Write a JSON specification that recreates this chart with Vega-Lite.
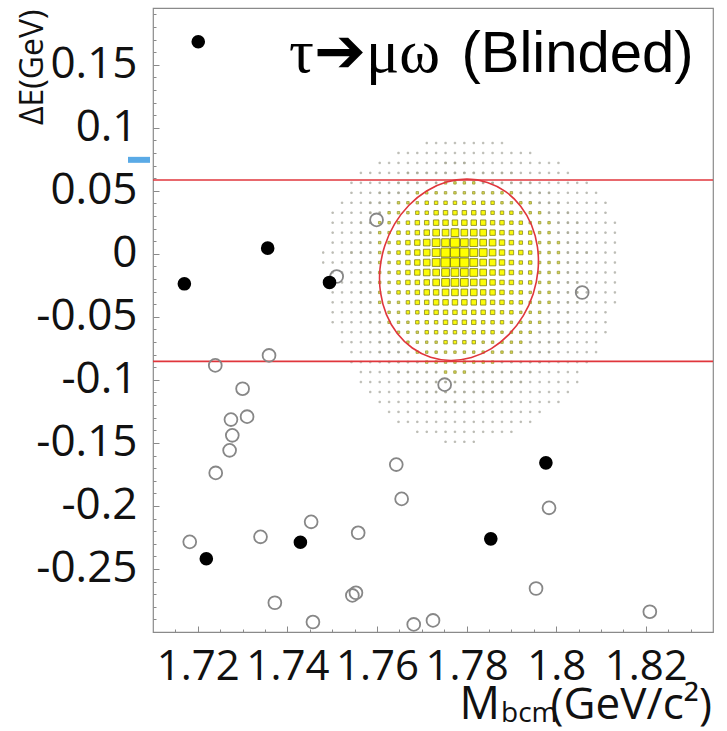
{
"$schema": "https://vega.github.io/schema/vega-lite/v6.json",
"width": 560, "height": 624,
"autosize": {"type": "none"},
"padding": {"left": 153, "top": 8, "right": 14, "bottom": 99},
"background": "white",
"config": {"view": {"stroke": "#8a8a8a", "strokeWidth": 1.2}},
"resolve": {"axis": {"x": "independent", "y": "independent"}},
"datasets": {
"hist": [
{"m":1.7753,"e":0.0721,"n":2},{"m":1.7774,"e":0.0721,"n":2},{"m":1.7795,"e":0.0721,"n":2},
{"m":1.7669,"e":0.0642,"n":2},{"m":1.769,"e":0.0642,"n":2},{"m":1.7711,"e":0.0642,"n":2},{"m":1.7732,"e":0.0642,"n":2},{"m":1.7753,"e":0.0642,"n":2},{"m":1.7774,"e":0.0642,"n":2},{"m":1.7795,"e":0.0642,"n":2},{"m":1.7816,"e":0.0642,"n":2},{"m":1.7837,"e":0.0642,"n":2},{"m":1.7858,"e":0.0642,"n":2},{"m":1.7879,"e":0.0642,"n":2},{"m":1.79,"e":0.0642,"n":2},
{"m":1.7648,"e":0.0563,"n":2},{"m":1.7669,"e":0.0563,"n":2},{"m":1.769,"e":0.0563,"n":2},{"m":1.7711,"e":0.0563,"n":2},{"m":1.7732,"e":0.0563,"n":2},{"m":1.7753,"e":0.0563,"n":3},{"m":1.7774,"e":0.0563,"n":3},{"m":1.7795,"e":0.0563,"n":3},{"m":1.7816,"e":0.0563,"n":3},{"m":1.7837,"e":0.0563,"n":2},{"m":1.7858,"e":0.0563,"n":2},{"m":1.7879,"e":0.0563,"n":2},{"m":1.79,"e":0.0563,"n":2},{"m":1.7921,"e":0.0563,"n":2},{"m":1.7942,"e":0.0563,"n":2},
{"m":1.7606,"e":0.0484,"n":2},{"m":1.7627,"e":0.0484,"n":2},{"m":1.7648,"e":0.0484,"n":2},{"m":1.7669,"e":0.0484,"n":2},{"m":1.769,"e":0.0484,"n":3},{"m":1.7711,"e":0.0484,"n":3},{"m":1.7732,"e":0.0484,"n":3},{"m":1.7753,"e":0.0484,"n":3},{"m":1.7774,"e":0.0484,"n":3},{"m":1.7795,"e":0.0484,"n":3},{"m":1.7816,"e":0.0484,"n":3},{"m":1.7837,"e":0.0484,"n":3},{"m":1.7858,"e":0.0484,"n":3},{"m":1.7879,"e":0.0484,"n":3},{"m":1.79,"e":0.0484,"n":3},{"m":1.7921,"e":0.0484,"n":2},{"m":1.7942,"e":0.0484,"n":2},{"m":1.7963,"e":0.0484,"n":2},{"m":1.7984,"e":0.0484,"n":2},
{"m":1.7585,"e":0.0405,"n":2},{"m":1.7606,"e":0.0405,"n":2},{"m":1.7627,"e":0.0405,"n":2},{"m":1.7648,"e":0.0405,"n":3},{"m":1.7669,"e":0.0405,"n":3},{"m":1.769,"e":0.0405,"n":3},{"m":1.7711,"e":0.0405,"n":4},{"m":1.7732,"e":0.0405,"n":4},{"m":1.7753,"e":0.0405,"n":4},{"m":1.7774,"e":0.0405,"n":4},{"m":1.7795,"e":0.0405,"n":4},{"m":1.7816,"e":0.0405,"n":4},{"m":1.7837,"e":0.0405,"n":4},{"m":1.7858,"e":0.0405,"n":4},{"m":1.7879,"e":0.0405,"n":3},{"m":1.79,"e":0.0405,"n":3},{"m":1.7921,"e":0.0405,"n":3},{"m":1.7942,"e":0.0405,"n":3},{"m":1.7963,"e":0.0405,"n":2},{"m":1.7984,"e":0.0405,"n":2},{"m":1.8005,"e":0.0405,"n":2},
{"m":1.7585,"e":0.0326,"n":2},{"m":1.7606,"e":0.0326,"n":2},{"m":1.7627,"e":0.0326,"n":3},{"m":1.7648,"e":0.0326,"n":3},{"m":1.7669,"e":0.0326,"n":3},{"m":1.769,"e":0.0326,"n":4},{"m":1.7711,"e":0.0326,"n":4},{"m":1.7732,"e":0.0326,"n":5},{"m":1.7753,"e":0.0326,"n":5},{"m":1.7774,"e":0.0326,"n":5},{"m":1.7795,"e":0.0326,"n":5},{"m":1.7816,"e":0.0326,"n":5},{"m":1.7837,"e":0.0326,"n":5},{"m":1.7858,"e":0.0326,"n":4},{"m":1.7879,"e":0.0326,"n":4},{"m":1.79,"e":0.0326,"n":4},{"m":1.7921,"e":0.0326,"n":3},{"m":1.7942,"e":0.0326,"n":3},{"m":1.7963,"e":0.0326,"n":3},{"m":1.7984,"e":0.0326,"n":2},{"m":1.8005,"e":0.0326,"n":2},{"m":1.8026,"e":0.0326,"n":2},
{"m":1.7564,"e":0.0247,"n":2},{"m":1.7585,"e":0.0247,"n":2},{"m":1.7606,"e":0.0247,"n":3},{"m":1.7627,"e":0.0247,"n":3},{"m":1.7648,"e":0.0247,"n":3},{"m":1.7669,"e":0.0247,"n":4},{"m":1.769,"e":0.0247,"n":5},{"m":1.7711,"e":0.0247,"n":5},{"m":1.7732,"e":0.0247,"n":6},{"m":1.7753,"e":0.0247,"n":6},{"m":1.7774,"e":0.0247,"n":6},{"m":1.7795,"e":0.0247,"n":6},{"m":1.7816,"e":0.0247,"n":6},{"m":1.7837,"e":0.0247,"n":6},{"m":1.7858,"e":0.0247,"n":5},{"m":1.7879,"e":0.0247,"n":5},{"m":1.79,"e":0.0247,"n":4},{"m":1.7921,"e":0.0247,"n":4},{"m":1.7942,"e":0.0247,"n":3},{"m":1.7963,"e":0.0247,"n":3},{"m":1.7984,"e":0.0247,"n":3},{"m":1.8005,"e":0.0247,"n":2},{"m":1.8026,"e":0.0247,"n":2},{"m":1.8047,"e":0.0247,"n":2},
{"m":1.7564,"e":0.0168,"n":2},{"m":1.7585,"e":0.0168,"n":2},{"m":1.7606,"e":0.0168,"n":3},{"m":1.7627,"e":0.0168,"n":3},{"m":1.7648,"e":0.0168,"n":4},{"m":1.7669,"e":0.0168,"n":4},{"m":1.769,"e":0.0168,"n":5},{"m":1.7711,"e":0.0168,"n":6},{"m":1.7732,"e":0.0168,"n":7},{"m":1.7753,"e":0.0168,"n":7},{"m":1.7774,"e":0.0168,"n":8},{"m":1.7795,"e":0.0168,"n":7},{"m":1.7816,"e":0.0168,"n":7},{"m":1.7837,"e":0.0168,"n":7},{"m":1.7858,"e":0.0168,"n":6},{"m":1.7879,"e":0.0168,"n":5},{"m":1.79,"e":0.0168,"n":5},{"m":1.7921,"e":0.0168,"n":4},{"m":1.7942,"e":0.0168,"n":4},{"m":1.7963,"e":0.0168,"n":3},{"m":1.7984,"e":0.0168,"n":3},{"m":1.8005,"e":0.0168,"n":2},{"m":1.8026,"e":0.0168,"n":2},{"m":1.8047,"e":0.0168,"n":2},
{"m":1.7564,"e":0.0089,"n":2},{"m":1.7585,"e":0.0089,"n":2},{"m":1.7606,"e":0.0089,"n":3},{"m":1.7627,"e":0.0089,"n":3},{"m":1.7648,"e":0.0089,"n":4},{"m":1.7669,"e":0.0089,"n":5},{"m":1.769,"e":0.0089,"n":6},{"m":1.7711,"e":0.0089,"n":7},{"m":1.7732,"e":0.0089,"n":8},{"m":1.7753,"e":0.0089,"n":8},{"m":1.7774,"e":0.0089,"n":9},{"m":1.7795,"e":0.0089,"n":8},{"m":1.7816,"e":0.0089,"n":8},{"m":1.7837,"e":0.0089,"n":7},{"m":1.7858,"e":0.0089,"n":7},{"m":1.7879,"e":0.0089,"n":6},{"m":1.79,"e":0.0089,"n":5},{"m":1.7921,"e":0.0089,"n":4},{"m":1.7942,"e":0.0089,"n":4},{"m":1.7963,"e":0.0089,"n":3},{"m":1.7984,"e":0.0089,"n":3},{"m":1.8005,"e":0.0089,"n":3},{"m":1.8026,"e":0.0089,"n":2},{"m":1.8047,"e":0.0089,"n":2},
{"m":1.7543,"e":0.001,"n":2},{"m":1.7564,"e":0.001,"n":2},{"m":1.7585,"e":0.001,"n":2},{"m":1.7606,"e":0.001,"n":3},{"m":1.7627,"e":0.001,"n":3},{"m":1.7648,"e":0.001,"n":4},{"m":1.7669,"e":0.001,"n":5},{"m":1.769,"e":0.001,"n":6},{"m":1.7711,"e":0.001,"n":7},{"m":1.7732,"e":0.001,"n":8},{"m":1.7753,"e":0.001,"n":9},{"m":1.7774,"e":0.001,"n":9},{"m":1.7795,"e":0.001,"n":9},{"m":1.7816,"e":0.001,"n":8},{"m":1.7837,"e":0.001,"n":8},{"m":1.7858,"e":0.001,"n":7},{"m":1.7879,"e":0.001,"n":6},{"m":1.79,"e":0.001,"n":5},{"m":1.7921,"e":0.001,"n":5},{"m":1.7942,"e":0.001,"n":4},{"m":1.7963,"e":0.001,"n":3},{"m":1.7984,"e":0.001,"n":3},{"m":1.8005,"e":0.001,"n":3},{"m":1.8026,"e":0.001,"n":2},{"m":1.8047,"e":0.001,"n":2},{"m":1.8068,"e":0.001,"n":2},
{"m":1.7564,"e":-0.0069,"n":2},{"m":1.7585,"e":-0.0069,"n":2},{"m":1.7606,"e":-0.0069,"n":3},{"m":1.7627,"e":-0.0069,"n":3},{"m":1.7648,"e":-0.0069,"n":4},{"m":1.7669,"e":-0.0069,"n":5},{"m":1.769,"e":-0.0069,"n":6},{"m":1.7711,"e":-0.0069,"n":7},{"m":1.7732,"e":-0.0069,"n":8},{"m":1.7753,"e":-0.0069,"n":9},{"m":1.7774,"e":-0.0069,"n":9},{"m":1.7795,"e":-0.0069,"n":9},{"m":1.7816,"e":-0.0069,"n":8},{"m":1.7837,"e":-0.0069,"n":7},{"m":1.7858,"e":-0.0069,"n":7},{"m":1.7879,"e":-0.0069,"n":6},{"m":1.79,"e":-0.0069,"n":5},{"m":1.7921,"e":-0.0069,"n":4},{"m":1.7942,"e":-0.0069,"n":4},{"m":1.7963,"e":-0.0069,"n":3},{"m":1.7984,"e":-0.0069,"n":3},{"m":1.8005,"e":-0.0069,"n":3},{"m":1.8026,"e":-0.0069,"n":2},{"m":1.8047,"e":-0.0069,"n":2},
{"m":1.7564,"e":-0.0148,"n":2},{"m":1.7585,"e":-0.0148,"n":2},{"m":1.7606,"e":-0.0148,"n":3},{"m":1.7627,"e":-0.0148,"n":3},{"m":1.7648,"e":-0.0148,"n":4},{"m":1.7669,"e":-0.0148,"n":5},{"m":1.769,"e":-0.0148,"n":6},{"m":1.7711,"e":-0.0148,"n":7},{"m":1.7732,"e":-0.0148,"n":7},{"m":1.7753,"e":-0.0148,"n":8},{"m":1.7774,"e":-0.0148,"n":8},{"m":1.7795,"e":-0.0148,"n":8},{"m":1.7816,"e":-0.0148,"n":8},{"m":1.7837,"e":-0.0148,"n":7},{"m":1.7858,"e":-0.0148,"n":6},{"m":1.7879,"e":-0.0148,"n":6},{"m":1.79,"e":-0.0148,"n":5},{"m":1.7921,"e":-0.0148,"n":4},{"m":1.7942,"e":-0.0148,"n":4},{"m":1.7963,"e":-0.0148,"n":3},{"m":1.7984,"e":-0.0148,"n":3},{"m":1.8005,"e":-0.0148,"n":3},{"m":1.8026,"e":-0.0148,"n":2},{"m":1.8047,"e":-0.0148,"n":2},
{"m":1.7564,"e":-0.0227,"n":2},{"m":1.7585,"e":-0.0227,"n":2},{"m":1.7606,"e":-0.0227,"n":3},{"m":1.7627,"e":-0.0227,"n":3},{"m":1.7648,"e":-0.0227,"n":4},{"m":1.7669,"e":-0.0227,"n":5},{"m":1.769,"e":-0.0227,"n":5},{"m":1.7711,"e":-0.0227,"n":6},{"m":1.7732,"e":-0.0227,"n":7},{"m":1.7753,"e":-0.0227,"n":8},{"m":1.7774,"e":-0.0227,"n":8},{"m":1.7795,"e":-0.0227,"n":8},{"m":1.7816,"e":-0.0227,"n":7},{"m":1.7837,"e":-0.0227,"n":7},{"m":1.7858,"e":-0.0227,"n":6},{"m":1.7879,"e":-0.0227,"n":5},{"m":1.79,"e":-0.0227,"n":5},{"m":1.7921,"e":-0.0227,"n":4},{"m":1.7942,"e":-0.0227,"n":4},{"m":1.7963,"e":-0.0227,"n":3},{"m":1.7984,"e":-0.0227,"n":3},{"m":1.8005,"e":-0.0227,"n":2},{"m":1.8026,"e":-0.0227,"n":2},{"m":1.8047,"e":-0.0227,"n":2},
{"m":1.7564,"e":-0.0306,"n":2},{"m":1.7585,"e":-0.0306,"n":2},{"m":1.7606,"e":-0.0306,"n":3},{"m":1.7627,"e":-0.0306,"n":3},{"m":1.7648,"e":-0.0306,"n":4},{"m":1.7669,"e":-0.0306,"n":4},{"m":1.769,"e":-0.0306,"n":5},{"m":1.7711,"e":-0.0306,"n":6},{"m":1.7732,"e":-0.0306,"n":6},{"m":1.7753,"e":-0.0306,"n":7},{"m":1.7774,"e":-0.0306,"n":7},{"m":1.7795,"e":-0.0306,"n":7},{"m":1.7816,"e":-0.0306,"n":7},{"m":1.7837,"e":-0.0306,"n":6},{"m":1.7858,"e":-0.0306,"n":6},{"m":1.7879,"e":-0.0306,"n":5},{"m":1.79,"e":-0.0306,"n":4},{"m":1.7921,"e":-0.0306,"n":4},{"m":1.7942,"e":-0.0306,"n":3},{"m":1.7963,"e":-0.0306,"n":3},{"m":1.7984,"e":-0.0306,"n":3},{"m":1.8005,"e":-0.0306,"n":2},{"m":1.8026,"e":-0.0306,"n":2},{"m":1.8047,"e":-0.0306,"n":2},
{"m":1.7564,"e":-0.0385,"n":2},{"m":1.7585,"e":-0.0385,"n":2},{"m":1.7606,"e":-0.0385,"n":3},{"m":1.7627,"e":-0.0385,"n":3},{"m":1.7648,"e":-0.0385,"n":3},{"m":1.7669,"e":-0.0385,"n":4},{"m":1.769,"e":-0.0385,"n":5},{"m":1.7711,"e":-0.0385,"n":5},{"m":1.7732,"e":-0.0385,"n":6},{"m":1.7753,"e":-0.0385,"n":6},{"m":1.7774,"e":-0.0385,"n":6},{"m":1.7795,"e":-0.0385,"n":6},{"m":1.7816,"e":-0.0385,"n":6},{"m":1.7837,"e":-0.0385,"n":6},{"m":1.7858,"e":-0.0385,"n":5},{"m":1.7879,"e":-0.0385,"n":5},{"m":1.79,"e":-0.0385,"n":4},{"m":1.7921,"e":-0.0385,"n":4},{"m":1.7942,"e":-0.0385,"n":3},{"m":1.7963,"e":-0.0385,"n":3},{"m":1.7984,"e":-0.0385,"n":3},{"m":1.8005,"e":-0.0385,"n":2},{"m":1.8026,"e":-0.0385,"n":2},{"m":1.8047,"e":-0.0385,"n":2},
{"m":1.7564,"e":-0.0464,"n":2},{"m":1.7585,"e":-0.0464,"n":2},{"m":1.7606,"e":-0.0464,"n":2},{"m":1.7627,"e":-0.0464,"n":3},{"m":1.7648,"e":-0.0464,"n":3},{"m":1.7669,"e":-0.0464,"n":4},{"m":1.769,"e":-0.0464,"n":4},{"m":1.7711,"e":-0.0464,"n":5},{"m":1.7732,"e":-0.0464,"n":5},{"m":1.7753,"e":-0.0464,"n":5},{"m":1.7774,"e":-0.0464,"n":5},{"m":1.7795,"e":-0.0464,"n":5},{"m":1.7816,"e":-0.0464,"n":5},{"m":1.7837,"e":-0.0464,"n":5},{"m":1.7858,"e":-0.0464,"n":5},{"m":1.7879,"e":-0.0464,"n":4},{"m":1.79,"e":-0.0464,"n":4},{"m":1.7921,"e":-0.0464,"n":3},{"m":1.7942,"e":-0.0464,"n":3},{"m":1.7963,"e":-0.0464,"n":3},{"m":1.7984,"e":-0.0464,"n":2},{"m":1.8005,"e":-0.0464,"n":2},{"m":1.8026,"e":-0.0464,"n":2},
{"m":1.7585,"e":-0.0543,"n":2},{"m":1.7606,"e":-0.0543,"n":2},{"m":1.7627,"e":-0.0543,"n":3},{"m":1.7648,"e":-0.0543,"n":3},{"m":1.7669,"e":-0.0543,"n":3},{"m":1.769,"e":-0.0543,"n":4},{"m":1.7711,"e":-0.0543,"n":4},{"m":1.7732,"e":-0.0543,"n":4},{"m":1.7753,"e":-0.0543,"n":5},{"m":1.7774,"e":-0.0543,"n":5},{"m":1.7795,"e":-0.0543,"n":5},{"m":1.7816,"e":-0.0543,"n":5},{"m":1.7837,"e":-0.0543,"n":4},{"m":1.7858,"e":-0.0543,"n":4},{"m":1.7879,"e":-0.0543,"n":4},{"m":1.79,"e":-0.0543,"n":3},{"m":1.7921,"e":-0.0543,"n":3},{"m":1.7942,"e":-0.0543,"n":3},{"m":1.7963,"e":-0.0543,"n":3},{"m":1.7984,"e":-0.0543,"n":2},{"m":1.8005,"e":-0.0543,"n":2},{"m":1.8026,"e":-0.0543,"n":2},
{"m":1.7585,"e":-0.0622,"n":2},{"m":1.7606,"e":-0.0622,"n":2},{"m":1.7627,"e":-0.0622,"n":2},{"m":1.7648,"e":-0.0622,"n":3},{"m":1.7669,"e":-0.0622,"n":3},{"m":1.769,"e":-0.0622,"n":3},{"m":1.7711,"e":-0.0622,"n":4},{"m":1.7732,"e":-0.0622,"n":4},{"m":1.7753,"e":-0.0622,"n":4},{"m":1.7774,"e":-0.0622,"n":4},{"m":1.7795,"e":-0.0622,"n":4},{"m":1.7816,"e":-0.0622,"n":4},{"m":1.7837,"e":-0.0622,"n":4},{"m":1.7858,"e":-0.0622,"n":4},{"m":1.7879,"e":-0.0622,"n":3},{"m":1.79,"e":-0.0622,"n":3},{"m":1.7921,"e":-0.0622,"n":3},{"m":1.7942,"e":-0.0622,"n":3},{"m":1.7963,"e":-0.0622,"n":2},{"m":1.7984,"e":-0.0622,"n":2},{"m":1.8005,"e":-0.0622,"n":2},
{"m":1.7606,"e":-0.0701,"n":2},{"m":1.7627,"e":-0.0701,"n":2},{"m":1.7648,"e":-0.0701,"n":2},{"m":1.7669,"e":-0.0701,"n":3},{"m":1.769,"e":-0.0701,"n":3},{"m":1.7711,"e":-0.0701,"n":3},{"m":1.7732,"e":-0.0701,"n":3},{"m":1.7753,"e":-0.0701,"n":4},{"m":1.7774,"e":-0.0701,"n":4},{"m":1.7795,"e":-0.0701,"n":4},{"m":1.7816,"e":-0.0701,"n":4},{"m":1.7837,"e":-0.0701,"n":3},{"m":1.7858,"e":-0.0701,"n":3},{"m":1.7879,"e":-0.0701,"n":3},{"m":1.79,"e":-0.0701,"n":3},{"m":1.7921,"e":-0.0701,"n":3},{"m":1.7942,"e":-0.0701,"n":2},{"m":1.7963,"e":-0.0701,"n":2},{"m":1.7984,"e":-0.0701,"n":2},{"m":1.8005,"e":-0.0701,"n":2},
{"m":1.7606,"e":-0.078,"n":2},{"m":1.7627,"e":-0.078,"n":2},{"m":1.7648,"e":-0.078,"n":2},{"m":1.7669,"e":-0.078,"n":2},{"m":1.769,"e":-0.078,"n":3},{"m":1.7711,"e":-0.078,"n":3},{"m":1.7732,"e":-0.078,"n":3},{"m":1.7753,"e":-0.078,"n":3},{"m":1.7774,"e":-0.078,"n":3},{"m":1.7795,"e":-0.078,"n":3},{"m":1.7816,"e":-0.078,"n":3},{"m":1.7837,"e":-0.078,"n":3},{"m":1.7858,"e":-0.078,"n":3},{"m":1.7879,"e":-0.078,"n":3},{"m":1.79,"e":-0.078,"n":3},{"m":1.7921,"e":-0.078,"n":2},{"m":1.7942,"e":-0.078,"n":2},{"m":1.7963,"e":-0.078,"n":2},{"m":1.7984,"e":-0.078,"n":2},
{"m":1.7627,"e":-0.0859,"n":2},{"m":1.7648,"e":-0.0859,"n":2},{"m":1.7669,"e":-0.0859,"n":2},{"m":1.769,"e":-0.0859,"n":2},{"m":1.7711,"e":-0.0859,"n":3},{"m":1.7732,"e":-0.0859,"n":3},{"m":1.7753,"e":-0.0859,"n":3},{"m":1.7774,"e":-0.0859,"n":3},{"m":1.7795,"e":-0.0859,"n":3},{"m":1.7816,"e":-0.0859,"n":3},{"m":1.7837,"e":-0.0859,"n":3},{"m":1.7858,"e":-0.0859,"n":3},{"m":1.7879,"e":-0.0859,"n":2},{"m":1.79,"e":-0.0859,"n":2},{"m":1.7921,"e":-0.0859,"n":2},{"m":1.7942,"e":-0.0859,"n":2},{"m":1.7963,"e":-0.0859,"n":2},
{"m":1.7648,"e":-0.0938,"n":2},{"m":1.7669,"e":-0.0938,"n":2},{"m":1.769,"e":-0.0938,"n":2},{"m":1.7711,"e":-0.0938,"n":2},{"m":1.7732,"e":-0.0938,"n":2},{"m":1.7753,"e":-0.0938,"n":3},{"m":1.7774,"e":-0.0938,"n":3},{"m":1.7795,"e":-0.0938,"n":3},{"m":1.7816,"e":-0.0938,"n":2},{"m":1.7837,"e":-0.0938,"n":2},{"m":1.7858,"e":-0.0938,"n":2},{"m":1.7879,"e":-0.0938,"n":2},{"m":1.79,"e":-0.0938,"n":2},{"m":1.7921,"e":-0.0938,"n":2},{"m":1.7942,"e":-0.0938,"n":2},
{"m":1.7669,"e":-0.1017,"n":2},{"m":1.769,"e":-0.1017,"n":2},{"m":1.7711,"e":-0.1017,"n":2},{"m":1.7732,"e":-0.1017,"n":2},{"m":1.7753,"e":-0.1017,"n":2},{"m":1.7774,"e":-0.1017,"n":2},{"m":1.7795,"e":-0.1017,"n":2},{"m":1.7816,"e":-0.1017,"n":2},{"m":1.7837,"e":-0.1017,"n":2},{"m":1.7858,"e":-0.1017,"n":2},{"m":1.7879,"e":-0.1017,"n":2},{"m":1.79,"e":-0.1017,"n":2},{"m":1.7921,"e":-0.1017,"n":2},
{"m":1.7711,"e":-0.1096,"n":2},{"m":1.7732,"e":-0.1096,"n":2},{"m":1.7753,"e":-0.1096,"n":2},{"m":1.7774,"e":-0.1096,"n":2},{"m":1.7795,"e":-0.1096,"n":2},{"m":1.7816,"e":-0.1096,"n":2},{"m":1.7837,"e":-0.1096,"n":2},{"m":1.7858,"e":-0.1096,"n":2},{"m":1.7879,"e":-0.1096,"n":2},
{"m":1.7753,"e":-0.1175,"n":2},{"m":1.7774,"e":-0.1175,"n":2},{"m":1.7795,"e":-0.1175,"n":2},
{"m":1.7711,"e":0.0879,"n":1},{"m":1.7732,"e":0.0879,"n":1},{"m":1.7753,"e":0.0879,"n":1},{"m":1.7774,"e":0.0879,"n":1},{"m":1.7795,"e":0.0879,"n":1},{"m":1.7816,"e":0.0879,"n":1},{"m":1.7837,"e":0.0879,"n":1},{"m":1.7858,"e":0.0879,"n":1},{"m":1.7879,"e":0.0879,"n":1},
{"m":1.7648,"e":0.08,"n":1},{"m":1.7669,"e":0.08,"n":1},{"m":1.769,"e":0.08,"n":1},{"m":1.7711,"e":0.08,"n":1},{"m":1.7732,"e":0.08,"n":1},{"m":1.7753,"e":0.08,"n":1},{"m":1.7774,"e":0.08,"n":1},{"m":1.7795,"e":0.08,"n":1},{"m":1.7816,"e":0.08,"n":1},{"m":1.7837,"e":0.08,"n":1},{"m":1.7858,"e":0.08,"n":1},{"m":1.7879,"e":0.08,"n":1},{"m":1.79,"e":0.08,"n":1},{"m":1.7921,"e":0.08,"n":1},{"m":1.7942,"e":0.08,"n":1},
{"m":1.7606,"e":0.0721,"n":1},{"m":1.7627,"e":0.0721,"n":1},{"m":1.7648,"e":0.0721,"n":1},{"m":1.7669,"e":0.0721,"n":1},{"m":1.769,"e":0.0721,"n":1},{"m":1.7711,"e":0.0721,"n":1},{"m":1.7732,"e":0.0721,"n":1},{"m":1.7816,"e":0.0721,"n":1},{"m":1.7837,"e":0.0721,"n":1},{"m":1.7858,"e":0.0721,"n":1},{"m":1.7879,"e":0.0721,"n":1},{"m":1.79,"e":0.0721,"n":1},{"m":1.7921,"e":0.0721,"n":1},{"m":1.7942,"e":0.0721,"n":1},{"m":1.7963,"e":0.0721,"n":1},{"m":1.7984,"e":0.0721,"n":1},{"m":1.8005,"e":0.0721,"n":1},
{"m":1.7564,"e":0.0642,"n":1},{"m":1.7585,"e":0.0642,"n":1},{"m":1.7606,"e":0.0642,"n":1},{"m":1.7627,"e":0.0642,"n":1},{"m":1.7648,"e":0.0642,"n":1},{"m":1.7921,"e":0.0642,"n":1},{"m":1.7942,"e":0.0642,"n":1},{"m":1.7963,"e":0.0642,"n":1},{"m":1.7984,"e":0.0642,"n":1},{"m":1.8005,"e":0.0642,"n":1},{"m":1.8026,"e":0.0642,"n":1},
{"m":1.7543,"e":0.0563,"n":1},{"m":1.7564,"e":0.0563,"n":1},{"m":1.7585,"e":0.0563,"n":1},{"m":1.7606,"e":0.0563,"n":1},{"m":1.7627,"e":0.0563,"n":1},{"m":1.7963,"e":0.0563,"n":1},{"m":1.7984,"e":0.0563,"n":1},{"m":1.8005,"e":0.0563,"n":1},{"m":1.8026,"e":0.0563,"n":1},{"m":1.8047,"e":0.0563,"n":1},{"m":1.8068,"e":0.0563,"n":1},
{"m":1.7543,"e":0.0484,"n":1},{"m":1.7564,"e":0.0484,"n":1},{"m":1.7585,"e":0.0484,"n":1},{"m":1.8005,"e":0.0484,"n":1},{"m":1.8026,"e":0.0484,"n":1},{"m":1.8047,"e":0.0484,"n":1},{"m":1.8068,"e":0.0484,"n":1},{"m":1.8089,"e":0.0484,"n":1},
{"m":1.7522,"e":0.0405,"n":1},{"m":1.7543,"e":0.0405,"n":1},{"m":1.7564,"e":0.0405,"n":1},{"m":1.8026,"e":0.0405,"n":1},{"m":1.8047,"e":0.0405,"n":1},{"m":1.8068,"e":0.0405,"n":1},{"m":1.8089,"e":0.0405,"n":1},{"m":1.811,"e":0.0405,"n":1},
{"m":1.7501,"e":0.0326,"n":1},{"m":1.7522,"e":0.0326,"n":1},{"m":1.7543,"e":0.0326,"n":1},{"m":1.7564,"e":0.0326,"n":1},{"m":1.8047,"e":0.0326,"n":1},{"m":1.8068,"e":0.0326,"n":1},{"m":1.8089,"e":0.0326,"n":1},{"m":1.811,"e":0.0326,"n":1},
{"m":1.7501,"e":0.0247,"n":1},{"m":1.7522,"e":0.0247,"n":1},{"m":1.7543,"e":0.0247,"n":1},{"m":1.8068,"e":0.0247,"n":1},{"m":1.8089,"e":0.0247,"n":1},{"m":1.811,"e":0.0247,"n":1},{"m":1.8131,"e":0.0247,"n":1},
{"m":1.7501,"e":0.0168,"n":1},{"m":1.7522,"e":0.0168,"n":1},{"m":1.7543,"e":0.0168,"n":1},{"m":1.8068,"e":0.0168,"n":1},{"m":1.8089,"e":0.0168,"n":1},{"m":1.811,"e":0.0168,"n":1},{"m":1.8131,"e":0.0168,"n":1},
{"m":1.7501,"e":0.0089,"n":1},{"m":1.7522,"e":0.0089,"n":1},{"m":1.7543,"e":0.0089,"n":1},{"m":1.8068,"e":0.0089,"n":1},{"m":1.8089,"e":0.0089,"n":1},{"m":1.811,"e":0.0089,"n":1},{"m":1.8131,"e":0.0089,"n":1},
{"m":1.748,"e":0.001,"n":1},{"m":1.7501,"e":0.001,"n":1},{"m":1.7522,"e":0.001,"n":1},{"m":1.8089,"e":0.001,"n":1},{"m":1.811,"e":0.001,"n":1},{"m":1.8131,"e":0.001,"n":1},
{"m":1.748,"e":-0.0069,"n":1},{"m":1.7501,"e":-0.0069,"n":1},{"m":1.7522,"e":-0.0069,"n":1},{"m":1.7543,"e":-0.0069,"n":1},{"m":1.8068,"e":-0.0069,"n":1},{"m":1.8089,"e":-0.0069,"n":1},{"m":1.811,"e":-0.0069,"n":1},{"m":1.8131,"e":-0.0069,"n":1},
{"m":1.7501,"e":-0.0148,"n":1},{"m":1.7522,"e":-0.0148,"n":1},{"m":1.7543,"e":-0.0148,"n":1},{"m":1.8068,"e":-0.0148,"n":1},{"m":1.8089,"e":-0.0148,"n":1},{"m":1.811,"e":-0.0148,"n":1},{"m":1.8131,"e":-0.0148,"n":1},
{"m":1.7501,"e":-0.0227,"n":1},{"m":1.7522,"e":-0.0227,"n":1},{"m":1.7543,"e":-0.0227,"n":1},{"m":1.8068,"e":-0.0227,"n":1},{"m":1.8089,"e":-0.0227,"n":1},{"m":1.811,"e":-0.0227,"n":1},{"m":1.8131,"e":-0.0227,"n":1},
{"m":1.7501,"e":-0.0306,"n":1},{"m":1.7522,"e":-0.0306,"n":1},{"m":1.7543,"e":-0.0306,"n":1},{"m":1.8068,"e":-0.0306,"n":1},{"m":1.8089,"e":-0.0306,"n":1},{"m":1.811,"e":-0.0306,"n":1},{"m":1.8131,"e":-0.0306,"n":1},
{"m":1.7501,"e":-0.0385,"n":1},{"m":1.7522,"e":-0.0385,"n":1},{"m":1.7543,"e":-0.0385,"n":1},{"m":1.8068,"e":-0.0385,"n":1},{"m":1.8089,"e":-0.0385,"n":1},{"m":1.811,"e":-0.0385,"n":1},{"m":1.8131,"e":-0.0385,"n":1},
{"m":1.7501,"e":-0.0464,"n":1},{"m":1.7522,"e":-0.0464,"n":1},{"m":1.7543,"e":-0.0464,"n":1},{"m":1.8047,"e":-0.0464,"n":1},{"m":1.8068,"e":-0.0464,"n":1},{"m":1.8089,"e":-0.0464,"n":1},{"m":1.811,"e":-0.0464,"n":1},
{"m":1.7501,"e":-0.0543,"n":1},{"m":1.7522,"e":-0.0543,"n":1},{"m":1.7543,"e":-0.0543,"n":1},{"m":1.7564,"e":-0.0543,"n":1},{"m":1.8047,"e":-0.0543,"n":1},{"m":1.8068,"e":-0.0543,"n":1},{"m":1.8089,"e":-0.0543,"n":1},{"m":1.811,"e":-0.0543,"n":1},
{"m":1.7522,"e":-0.0622,"n":1},{"m":1.7543,"e":-0.0622,"n":1},{"m":1.7564,"e":-0.0622,"n":1},{"m":1.8026,"e":-0.0622,"n":1},{"m":1.8047,"e":-0.0622,"n":1},{"m":1.8068,"e":-0.0622,"n":1},{"m":1.8089,"e":-0.0622,"n":1},{"m":1.811,"e":-0.0622,"n":1},
{"m":1.7522,"e":-0.0701,"n":1},{"m":1.7543,"e":-0.0701,"n":1},{"m":1.7564,"e":-0.0701,"n":1},{"m":1.7585,"e":-0.0701,"n":1},{"m":1.8026,"e":-0.0701,"n":1},{"m":1.8047,"e":-0.0701,"n":1},{"m":1.8068,"e":-0.0701,"n":1},{"m":1.8089,"e":-0.0701,"n":1},
{"m":1.7543,"e":-0.078,"n":1},{"m":1.7564,"e":-0.078,"n":1},{"m":1.7585,"e":-0.078,"n":1},{"m":1.8005,"e":-0.078,"n":1},{"m":1.8026,"e":-0.078,"n":1},{"m":1.8047,"e":-0.078,"n":1},{"m":1.8068,"e":-0.078,"n":1},{"m":1.8089,"e":-0.078,"n":1},
{"m":1.7543,"e":-0.0859,"n":1},{"m":1.7564,"e":-0.0859,"n":1},{"m":1.7585,"e":-0.0859,"n":1},{"m":1.7606,"e":-0.0859,"n":1},{"m":1.7984,"e":-0.0859,"n":1},{"m":1.8005,"e":-0.0859,"n":1},{"m":1.8026,"e":-0.0859,"n":1},{"m":1.8047,"e":-0.0859,"n":1},{"m":1.8068,"e":-0.0859,"n":1},
{"m":1.7564,"e":-0.0938,"n":1},{"m":1.7585,"e":-0.0938,"n":1},{"m":1.7606,"e":-0.0938,"n":1},{"m":1.7627,"e":-0.0938,"n":1},{"m":1.7963,"e":-0.0938,"n":1},{"m":1.7984,"e":-0.0938,"n":1},{"m":1.8005,"e":-0.0938,"n":1},{"m":1.8026,"e":-0.0938,"n":1},{"m":1.8047,"e":-0.0938,"n":1},
{"m":1.7564,"e":-0.1017,"n":1},{"m":1.7585,"e":-0.1017,"n":1},{"m":1.7606,"e":-0.1017,"n":1},{"m":1.7627,"e":-0.1017,"n":1},{"m":1.7648,"e":-0.1017,"n":1},{"m":1.7942,"e":-0.1017,"n":1},{"m":1.7963,"e":-0.1017,"n":1},{"m":1.7984,"e":-0.1017,"n":1},{"m":1.8005,"e":-0.1017,"n":1},{"m":1.8026,"e":-0.1017,"n":1},{"m":1.8047,"e":-0.1017,"n":1},
{"m":1.7585,"e":-0.1096,"n":1},{"m":1.7606,"e":-0.1096,"n":1},{"m":1.7627,"e":-0.1096,"n":1},{"m":1.7648,"e":-0.1096,"n":1},{"m":1.7669,"e":-0.1096,"n":1},{"m":1.769,"e":-0.1096,"n":1},{"m":1.79,"e":-0.1096,"n":1},{"m":1.7921,"e":-0.1096,"n":1},{"m":1.7942,"e":-0.1096,"n":1},{"m":1.7963,"e":-0.1096,"n":1},{"m":1.7984,"e":-0.1096,"n":1},{"m":1.8005,"e":-0.1096,"n":1},{"m":1.8026,"e":-0.1096,"n":1},
{"m":1.7606,"e":-0.1175,"n":1},{"m":1.7627,"e":-0.1175,"n":1},{"m":1.7648,"e":-0.1175,"n":1},{"m":1.7669,"e":-0.1175,"n":1},{"m":1.769,"e":-0.1175,"n":1},{"m":1.7711,"e":-0.1175,"n":1},{"m":1.7732,"e":-0.1175,"n":1},{"m":1.7816,"e":-0.1175,"n":1},{"m":1.7837,"e":-0.1175,"n":1},{"m":1.7858,"e":-0.1175,"n":1},{"m":1.7879,"e":-0.1175,"n":1},{"m":1.79,"e":-0.1175,"n":1},{"m":1.7921,"e":-0.1175,"n":1},{"m":1.7942,"e":-0.1175,"n":1},{"m":1.7963,"e":-0.1175,"n":1},{"m":1.7984,"e":-0.1175,"n":1},{"m":1.8005,"e":-0.1175,"n":1},
{"m":1.7627,"e":-0.1254,"n":1},{"m":1.7648,"e":-0.1254,"n":1},{"m":1.7669,"e":-0.1254,"n":1},{"m":1.769,"e":-0.1254,"n":1},{"m":1.7711,"e":-0.1254,"n":1},{"m":1.7732,"e":-0.1254,"n":1},{"m":1.7753,"e":-0.1254,"n":1},{"m":1.7774,"e":-0.1254,"n":1},{"m":1.7795,"e":-0.1254,"n":1},{"m":1.7816,"e":-0.1254,"n":1},{"m":1.7837,"e":-0.1254,"n":1},{"m":1.7858,"e":-0.1254,"n":1},{"m":1.7879,"e":-0.1254,"n":1},{"m":1.79,"e":-0.1254,"n":1},{"m":1.7921,"e":-0.1254,"n":1},{"m":1.7942,"e":-0.1254,"n":1},{"m":1.7963,"e":-0.1254,"n":1},
{"m":1.7648,"e":-0.1333,"n":1},{"m":1.7669,"e":-0.1333,"n":1},{"m":1.769,"e":-0.1333,"n":1},{"m":1.7711,"e":-0.1333,"n":1},{"m":1.7732,"e":-0.1333,"n":1},{"m":1.7753,"e":-0.1333,"n":1},{"m":1.7774,"e":-0.1333,"n":1},{"m":1.7795,"e":-0.1333,"n":1},{"m":1.7816,"e":-0.1333,"n":1},{"m":1.7837,"e":-0.1333,"n":1},{"m":1.7858,"e":-0.1333,"n":1},{"m":1.7879,"e":-0.1333,"n":1},{"m":1.79,"e":-0.1333,"n":1},{"m":1.7921,"e":-0.1333,"n":1},{"m":1.7942,"e":-0.1333,"n":1},
{"m":1.769,"e":-0.1412,"n":1},{"m":1.7711,"e":-0.1412,"n":1},{"m":1.7732,"e":-0.1412,"n":1},{"m":1.7753,"e":-0.1412,"n":1},{"m":1.7774,"e":-0.1412,"n":1},{"m":1.7795,"e":-0.1412,"n":1},{"m":1.7816,"e":-0.1412,"n":1},{"m":1.7837,"e":-0.1412,"n":1},{"m":1.7858,"e":-0.1412,"n":1},{"m":1.7879,"e":-0.1412,"n":1},{"m":1.79,"e":-0.1412,"n":1},
{"m":1.7753,"e":-0.1491,"n":1},{"m":1.7774,"e":-0.1491,"n":1},{"m":1.7795,"e":-0.1491,"n":1},{"m":1.7816,"e":-0.1491,"n":1}
],
"ev": [
{"m":1.7201,"e":0.1682,"c":"filled"},{"m":1.7356,"e":0.0045,"c":"filled"},{"m":1.717,"e":-0.0238,"c":"filled"},{"m":1.7494,"e":-0.0227,"c":"filled"},{"m":1.7977,"e":-0.1658,"c":"filled"},{"m":1.7854,"e":-0.2261,"c":"filled"},{"m":1.7429,"e":-0.2288,"c":"filled"},{"m":1.7219,"e":-0.2419,"c":"filled"},
{"m":1.751,"e":-0.018,"c":"open"},{"m":1.7599,"e":0.0269,"c":"open"},{"m":1.8058,"e":-0.0307,"c":"open"},{"m":1.7239,"e":-0.0885,"c":"open"},{"m":1.7359,"e":-0.0806,"c":"open"},{"m":1.73,"e":-0.107,"c":"open"},{"m":1.7274,"e":-0.1315,"c":"open"},{"m":1.731,"e":-0.1292,"c":"open"},{"m":1.7277,"e":-0.144,"c":"open"},{"m":1.7271,"e":-0.1559,"c":"open"},{"m":1.724,"e":-0.1738,"c":"open"},{"m":1.7751,"e":-0.1038,"c":"open"},{"m":1.7643,"e":-0.1672,"c":"open"},{"m":1.7655,"e":-0.1944,"c":"open"},{"m":1.7984,"e":-0.2015,"c":"open"},{"m":1.7453,"e":-0.2126,"c":"open"},{"m":1.7558,"e":-0.2213,"c":"open"},{"m":1.734,"e":-0.2245,"c":"open"},{"m":1.7182,"e":-0.2285,"c":"open"},{"m":1.7955,"e":-0.2655,"c":"open"},{"m":1.7553,"e":-0.2689,"c":"open"},{"m":1.7545,"e":-0.271,"c":"open"},{"m":1.7372,"e":-0.2768,"c":"open"},{"m":1.7457,"e":-0.2921,"c":"open"},{"m":1.7682,"e":-0.294,"c":"open"},{"m":1.7725,"e":-0.2908,"c":"open"},{"m":1.8209,"e":-0.2839,"c":"open"}
],
"ell": [
{"i":0,"m":1.78464,"e":0.05665},{"i":1,"m":1.78871,"e":0.04935},{"i":2,"m":1.79207,"e":0.03781},{"i":3,"m":1.79449,"e":0.02284},{"i":4,"m":1.79581,"e":0.00545},{"i":5,"m":1.79594,"e":-0.01318},{"i":6,"m":1.79486,"e":-0.03178},{"i":7,"m":1.79266,"e":-0.04907},{"i":8,"m":1.78947,"e":-0.06389},{"i":9,"m":1.78553,"e":-0.07521},{"i":10,"m":1.78109,"e":-0.08227},{"i":11,"m":1.77646,"e":-0.08459},{"i":12,"m":1.77196,"e":-0.08201},{"i":13,"m":1.76789,"e":-0.07471},{"i":14,"m":1.76453,"e":-0.06317},{"i":15,"m":1.76211,"e":-0.0482},{"i":16,"m":1.76079,"e":-0.03081},{"i":17,"m":1.76066,"e":-0.01218},{"i":18,"m":1.76174,"e":0.00642},{"i":19,"m":1.76394,"e":0.02371},{"i":20,"m":1.76713,"e":0.03853},{"i":21,"m":1.77107,"e":0.04985},{"i":22,"m":1.77551,"e":0.05691},{"i":23,"m":1.78014,"e":0.05923}
],
"cut": [{"e":0.0585},{"e":-0.0853}]
},
"layer": [
{
"data": {"name": "hist"},
"mark": {"type": "square", "filled": true, "strokeWidth": 0.8, "opacity": 1},
"encoding": {
"x": {"field": "m", "type": "quantitative", "scale": {"domain": [1.71, 1.835], "nice": false, "zero": false},
"axis": {"orient": "bottom", "values": [1.72,1.74,1.76,1.78,1.8,1.82], "format": ".2~f",
"tickSize": -6, "tickColor": "#8a8a8a", "tickWidth": 1, "domain": false, "grid": false,
"labelFont": "Open Sans", "labelFontSize": 42, "labelColor": "#111111", "labelPadding": 20,
"labelOverlap": false, "labelFlush": false, "labelBound": false, "title": null}},
"y": {"field": "e", "type": "quantitative", "scale": {"domain": [-0.3, 0.195], "nice": false, "zero": false},
"axis": {"orient": "left", "values": [-0.25,-0.2,-0.15,-0.1,-0.05,0,0.05,0.1,0.15],
"labelExpr": "replace(format(datum.value,'.2~f'),'\u2212','-')",
"tickSize": -6, "tickColor": "#8a8a8a", "tickWidth": 1, "domain": false, "grid": false,
"labelFont": "Open Sans", "labelFontSize": 44, "labelColor": "#111111", "labelPadding": 22,
"labelOverlap": false, "labelFlush": false, "labelBound": false,
"title": "ΔE(GeV)", "titleFont": "Open Sans", "titleFontSize": 32, "titleFontWeight": "normal", "titleColor": "#111111",
"titleAngle": 270, "titleAnchor": "end", "titleAlign": "right", "titleBaseline": "bottom", "titleX": -104, "titleY": 1}},
"size": {"field": "n", "type": "quantitative", "scale": {"domain": [1, 2, 3, 4, 5, 6, 7, 8, 9], "range": [2.2, 3, 6, 12, 20, 30, 44, 60, 81]}, "legend": null},
"fill": {"field": "n", "type": "quantitative", "scale": {"domain": [1, 2, 3, 4, 9], "range": ["#c6c6be", "#b4b49c", "#d8d850", "#f8f810", "#ffff00"]}, "legend": null},
"stroke": {"field": "n", "type": "quantitative", "scale": {"domain": [1, 2, 3, 4, 9], "range": ["#b6b6ae", "#a4a494", "#9a9a3a", "#8c8c22", "#6e6e10"]}, "legend": null}
}
},
{
"data": {"name": "cut"},
"mark": {"type": "rule", "color": "#e0363c", "strokeWidth": 1.6},
"encoding": {"y": {"field": "e", "type": "quantitative", "axis": null}}
},
{
"data": {"name": "ell"},
"mark": {"type": "line", "interpolate": "cardinal-closed", "color": "#e0363c", "strokeWidth": 1.6},
"encoding": {
"x": {"field": "m", "type": "quantitative",
"axis": {"orient": "bottom", "values": [1.715,1.725,1.73,1.735,1.745,1.75,1.755,1.765,1.77,1.775,1.785,1.79,1.795,1.805,1.81,1.815,1.825,1.83],
"labels": false, "tickSize": -3, "tickColor": "#8a8a8a", "tickWidth": 1, "domain": false, "grid": false, "title": null}},
"y": {"field": "e", "type": "quantitative",
"axis": {"orient": "left", "values": [-0.29,-0.28,-0.27,-0.26,-0.24,-0.23,-0.22,-0.21,-0.19,-0.18,-0.17,-0.16,-0.14,-0.13,-0.12,-0.11,-0.09,-0.08,-0.07,-0.06,-0.04,-0.03,-0.02,-0.01,0.01,0.02,0.03,0.04,0.06,0.07,0.08,0.09,0.11,0.12,0.13,0.14,0.16,0.17,0.18,0.19],
"labels": false, "tickSize": -3, "tickColor": "#8a8a8a", "tickWidth": 1, "domain": false, "grid": false, "title": null}},
"order": {"field": "i", "type": "quantitative"}}
},
{
"data": {"name": "ev"},
"transform": [{"filter": "datum.c == 'open'"}],
"mark": {"type": "point", "shape": "circle", "filled": false, "stroke": "#878787", "strokeWidth": 1.8, "size": 165, "opacity": 1},
"encoding": {"x": {"field": "m", "type": "quantitative", "axis": null}, "y": {"field": "e", "type": "quantitative", "axis": null}}
},
{
"data": {"name": "ev"},
"transform": [{"filter": "datum.c == 'filled'"}],
"mark": {"type": "point", "shape": "circle", "filled": true, "fill": "#000000", "size": 185, "opacity": 1},
"encoding": {"x": {"field": "m", "type": "quantitative", "axis": null}, "y": {"field": "e", "type": "quantitative", "axis": null}}
},
{
"data": {"values": [{}]},
"mark": {"type": "rect", "color": "#5aaae6", "opacity": 1},
"encoding": {"x": {"datum": 1.70442, "type": "quantitative", "axis": null}, "x2": {"datum": 1.70933}, "y": {"datum": 0.07693, "type": "quantitative", "axis": null}, "y2": {"datum": 0.07218}}
},
{
"data": {"values": [{}]},
"mark": {"type": "text", "text": "τ➔μω", "font": "Liberation Serif", "fontSize": 62, "align": "left", "baseline": "alphabetic", "color": "#000000"},
"encoding": {"x": {"datum": 1.74036, "type": "quantitative", "axis": null}, "y": {"datum": 0.1443, "type": "quantitative", "axis": null}}
},
{
"data": {"values": [{}]},
"mark": {"type": "text", "text": "(Blinded)", "font": "Liberation Sans", "fontSize": 58, "align": "right", "baseline": "alphabetic", "color": "#000000"},
"encoding": {"x": {"datum": 1.83065, "type": "quantitative", "axis": null}, "y": {"datum": 0.1443, "type": "quantitative", "axis": null}}
},
{
"data": {"values": [{}]},
"mark": {"type": "text", "text": "M", "font": "Open Sans", "fontSize": 45, "align": "right", "baseline": "alphabetic", "color": "#111111"},
"encoding": {"x": {"datum": 1.78746, "type": "quantitative", "axis": null}, "y": {"datum": -0.36918, "type": "quantitative", "axis": null}}
},
{
"data": {"values": [{}]},
"mark": {"type": "text", "text": "bcm", "font": "Open Sans", "fontSize": 28, "align": "left", "baseline": "alphabetic", "color": "#111111"},
"encoding": {"x": {"datum": 1.78768, "type": "quantitative", "axis": null}, "y": {"datum": -0.3716, "type": "quantitative", "axis": null}}
},
{
"data": {"values": [{}]},
"mark": {"type": "text", "text": "(GeV/c²)", "font": "Open Sans", "fontSize": 44, "align": "right", "baseline": "alphabetic", "color": "#111111"},
"encoding": {"x": {"datum": 1.83478, "type": "quantitative", "axis": null}, "y": {"datum": -0.36918, "type": "quantitative", "axis": null}}
}
]
}
